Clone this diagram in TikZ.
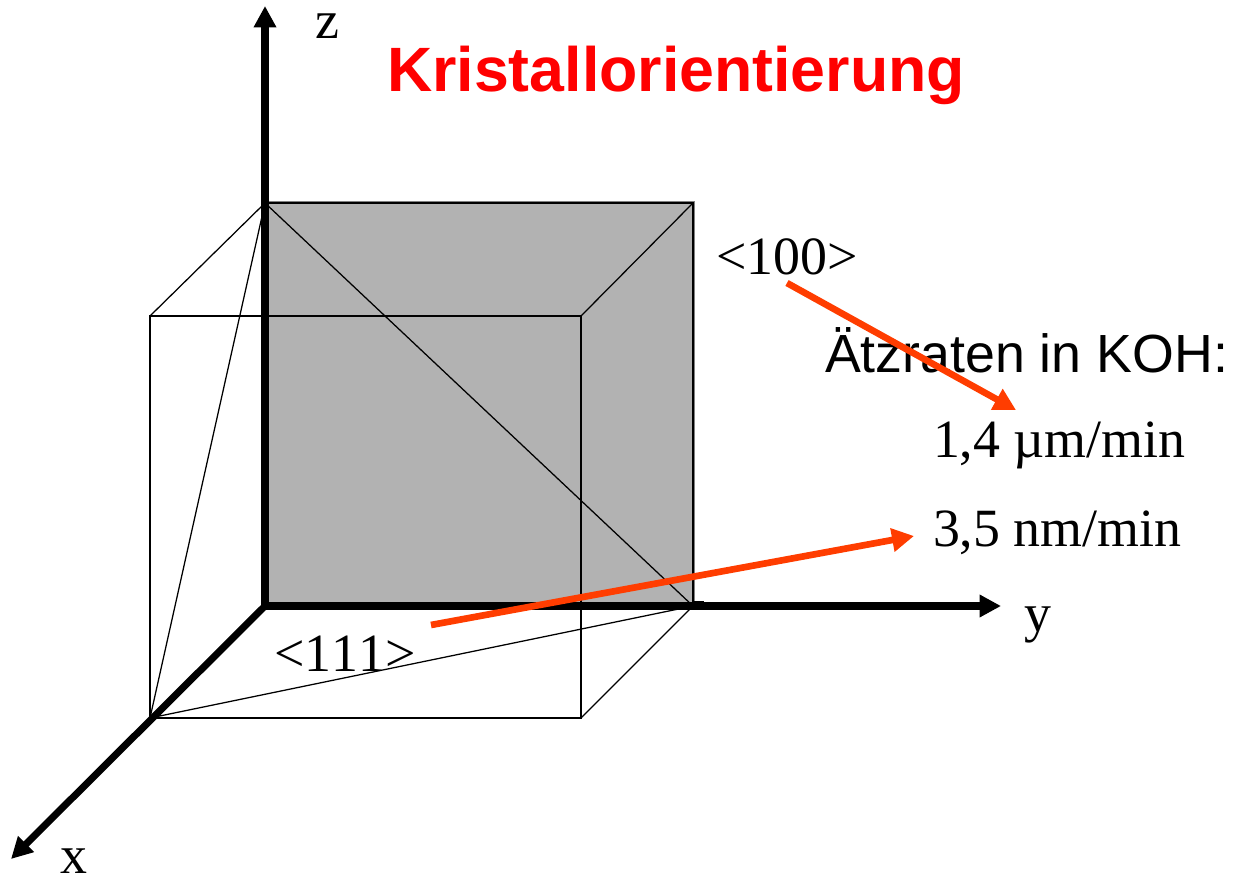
\documentclass[tikz,border=0pt]{standalone}
\usepackage{fontspec}
\setmainfont[Kerning=Off]{Liberation Serif}
\newfontfamily\arialfont{Liberation Sans}
\usetikzlibrary{arrows.meta}
\definecolor{facegray}{HTML}{B2B2B2}
\definecolor{edgegray}{HTML}{808080}
\definecolor{arrowred}{HTML}{FF3D00}
\definecolor{titlered}{HTML}{FF0000}
\tikzset{
  serifL/.style={anchor=base west,inner sep=0pt,outer sep=0pt,font=\fontsize{40.4}{48}\selectfont},
  sansL/.style={anchor=base west,inner sep=0pt,outer sep=0pt,font=\arialfont\fontsize{40.3}{49}\selectfont},
  titleL/.style={anchor=base west,inner sep=0pt,outer sep=0pt,text=titlered,font=\arialfont\bfseries\fontsize{47}{56}\selectfont},
  thinedge/.style={draw=black,line width=0.95pt},
  axisline/.style={draw=black,line width=5.3pt,-{Triangle[length=16pt,width=16pt]}},
  redarrow/.style={draw=arrowred,line width=5pt,-{Triangle[length=16.5pt,width=17pt]}}
}
\begin{document}
\begin{tikzpicture}[x=0.75pt,y=-0.75pt]
\useasboundingbox (0,0) rectangle (1234,877);
% cube corners
\coordinate (O) at (265,606);
\coordinate (Zc) at (265,203);
\coordinate (YZ) at (693,203);
\coordinate (Yc) at (693,606);
\coordinate (Fa) at (150,316);
\coordinate (Fb) at (581,316);
\coordinate (Fc) at (581,718);
\coordinate (Fd) at (150,718);
\coordinate (Ytick) at (704,602);
\coordinate (Ytickb) at (693,602);
\coordinate (Zend) at (265,6);
\coordinate (Yend) at (1001,606);
\coordinate (Xend) at (11,859);
\coordinate (Ra) at (787,283);
\coordinate (Rb) at (1016,410);
\coordinate (Rc) at (431,625);
\coordinate (Rd) at (914,536);
% back face
\fill[facegray] (Zc) rectangle (Yc);
\draw[edgegray,line width=2pt] (265,202) -- (694,202) -- (694,606);
% thin lines
\draw[thinedge] (Fa) -- (Fb) -- (Fc) -- (Fd) -- cycle;
\draw[thinedge] (Zc) -- (Fa);
\draw[thinedge] (YZ) -- (Fb);
\draw[thinedge] (Yc) -- (Fc);
\draw[thinedge] (Zc) -- (Yc);
\draw[thinedge] (Zc) -- (Fd);
\draw[thinedge] (Fd) -- (Yc);
\draw[thinedge] (Zc) -- (YZ) -- (Yc);
\draw[thinedge] (Ytickb) -- (Ytick);
% axes
\draw[axisline] (O) -- (Zend);
\draw[axisline] (O) -- (Yend);
\draw[axisline] (O) -- (Xend);
% labels
\node[serifL] (zlab) at (315,39) {z};
\node[serifL] (ylab) at (1024,631) {y};
\node[serifL] (xlab) at (60,873) {x};
\node[titleL] (title) at (387,92) {Kristallorientierung};
\node[serifL] (l100) at (716,274) {<100>};
\node[serifL] (l111) at (274,671) {<111>};
\node[sansL] (etch) at (825,372) {Ätzraten in KOH:};
\node[serifL] (r14) at (933,457) {1,4 µm/min};
\node[serifL] (r35) at (933,546) {3,5 nm/min};
% red arrows
\draw[redarrow] (Ra) -- (Rb);
\draw[redarrow] (Rc) -- (Rd);
\end{tikzpicture}
\end{document}
